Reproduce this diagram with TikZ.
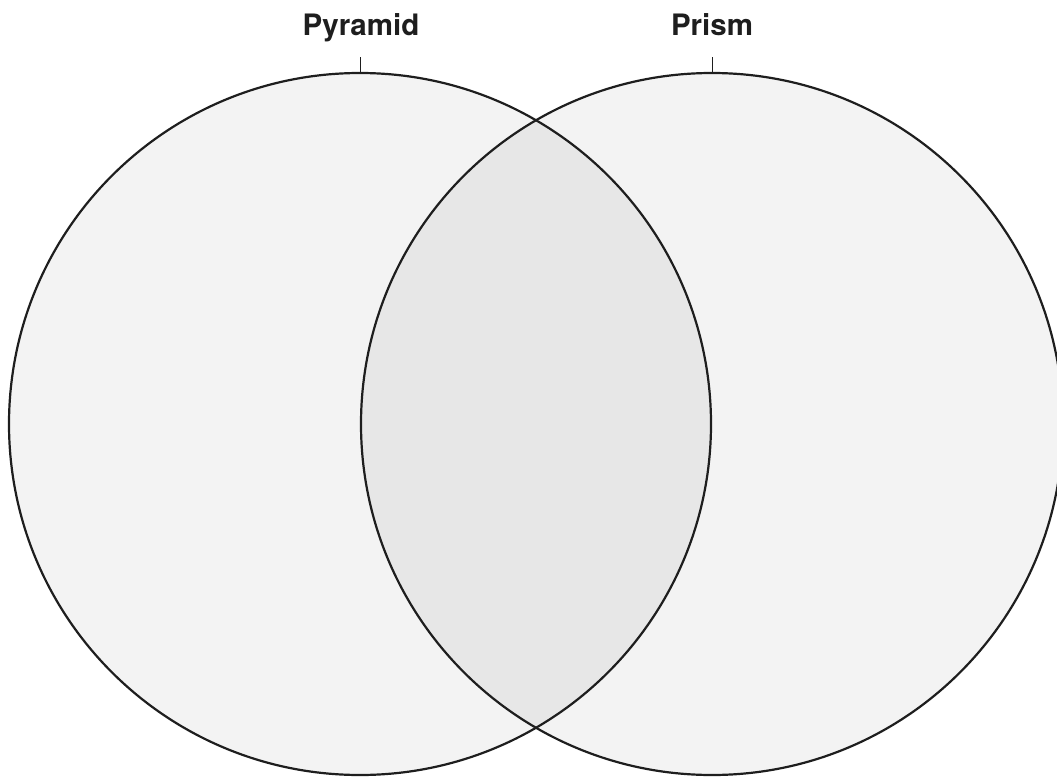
\documentclass[tikz,border=0pt]{standalone}
\usepackage{fontspec}
\newfontfamily\labelfont{TeX Gyre Heros}
\usepackage{xcolor}
\definecolor{set-color}{RGB}{243,243,243}
\definecolor{overlap-color}{RGB}{231,231,231}
\definecolor{edge-color}{RGB}{30,30,30}

\begin{document}
\begin{tikzpicture}[x=1pt, y=-1pt,
    setlabel/.style={font=\labelfont\bfseries\fontsize{29.5}{32}\selectfont, text=edge-color, inner sep=0pt, anchor=base},
    outline/.style={draw=edge-color, line width=2.2pt},
    tick/.style={draw=edge-color, line width=1pt}]

    % Page frame
    \useasboundingbox (0,0) rectangle (1057,778);
    \clip (0,0) rectangle (1057,778);

    % Set centres
    \coordinate (pyramid) at (360,424);
    \coordinate (prism) at (712,424);

    % Light fill for both sets
    \fill[set-color] (pyramid) circle[radius=351];
    \fill[set-color] (prism) circle[radius=351];

    % Darker overlap region
    \begin{scope}
        \clip (pyramid) circle[radius=351];
        \fill[overlap-color] (prism) circle[radius=351];
    \end{scope}

    % Circle outlines
    \draw[outline] (pyramid) circle[radius=351];
    \draw[outline] (prism) circle[radius=351];

    % Labels with short ticks
    \node[setlabel] (pyramid-label) at (361,36) {Pyramid};
    \node[setlabel] (prism-label) at (712,36) {Prism};
    \coordinate (pyramid-top) at (360,73);
    \coordinate (prism-top) at (712,73);
    \draw[tick] (pyramid-top) -- ++(0,-16);
    \draw[tick] (prism-top) -- ++(0,-16);
\end{tikzpicture}
\end{document}
